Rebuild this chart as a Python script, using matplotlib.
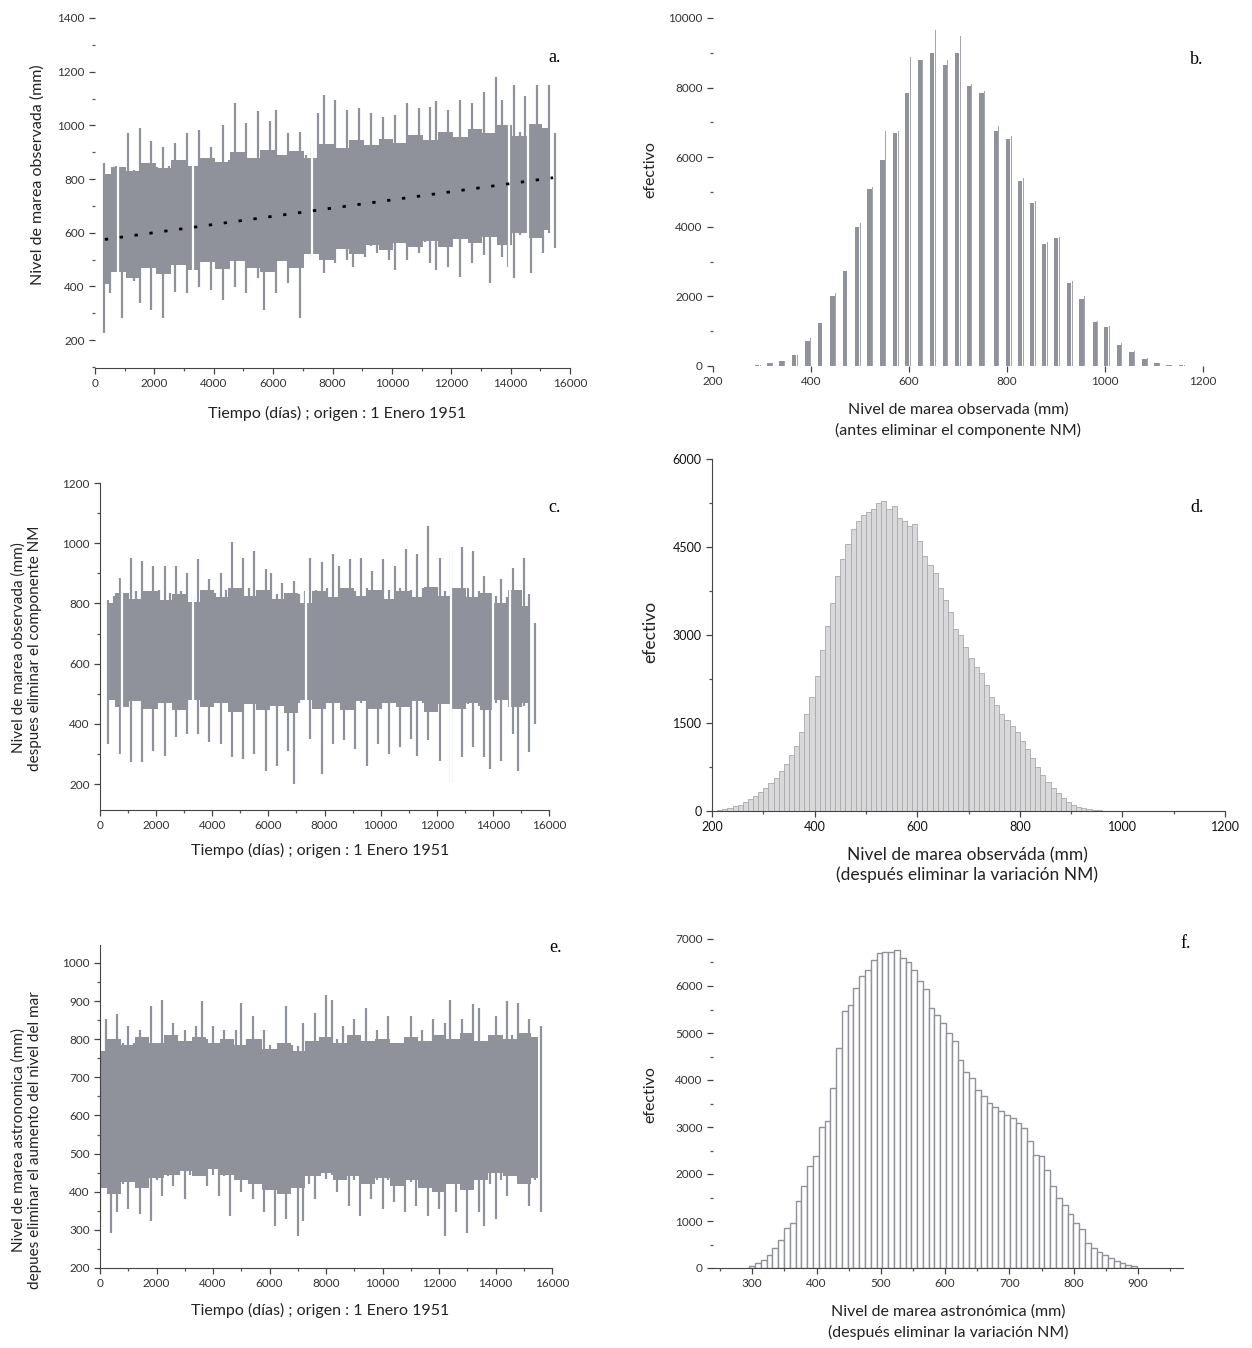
import matplotlib
matplotlib.use("Agg")
import matplotlib.pyplot as plt
import numpy as np
from matplotlib.ticker import MultipleLocator

plt.rcParams['font.family'] = ['Lato', 'DejaVu Sans']

W, H = 1252, 1348
GRAY = '#8f929b'

# ---- panel a: observed tide level (mm) ----
# extremes sampled every 200 days
a_t = list(range(300, 15501, 200))
a_hi = [860, 820, 850, 830, 971, 835, 990, 840, 940, 845,
        920, 850, 934, 850, 971, 855, 984, 860, 921, 865,
        1000, 870, 1083, 875, 1008, 880, 1052, 880, 1015, 1058,
        885, 971, 890, 977, 890, 946, 1046, 1114, 900, 1095,
        905, 1058, 910, 1064, 915, 1046, 920, 1033, 925, 1039,
        930, 1083, 935, 1064, 940, 1070, 1089, 945, 1058, 950,
        1095, 955, 1083, 960, 1126, 965, 1182, 1095, 970, 1151,
        975, 1108, 975, 1151, 980, 1151, 971]
a_lo = [225, 374, 480, 281, 485, 420, 337, 490, 312, 490,
        281, 495, 380, 495, 374, 500, 399, 505, 387, 505,
        349, 510, 399, 515, 374, 515, 430, 312, 520, 374,
        525, 411, 525, 281, 530, 499, 535, 449, 540, 486,
        545, 499, 474, 550, 511, 550, 523, 555, 500, 461,
        560, 499, 565, 523, 565, 486, 461, 570, 474, 575,
        436, 575, 486, 580, 517, 411, 585, 511, 474, 430,
        590, 598, 450, 595, 523, 600, 542]
# dense band, every 500 days
a_core_t = list(range(300, 15501, 500))
a_core_hi = [820, 845, 830, 860, 840, 870, 850, 880, 865, 900,
             880, 910, 890, 905, 880, 930, 915, 945, 925, 950,
             935, 965, 945, 975, 955, 985, 970, 1000, 960, 1005, 990]
a_core_lo = [410, 455, 430, 470, 445, 480, 460, 490, 465, 495,
             470, 455, 495, 470, 520, 500, 540, 520, 555, 535,
             560, 545, 570, 545, 575, 560, 585, 555, 600, 580, 610]
a_gaps = [790, 3290, 7300, 13960, 14600]
a_trend_t = [330, 15430]
a_trend_v = [575, 805]

# ---- panel b: histogram before removing NM component ----
b_x = [290, 315, 340, 365, 393, 418, 444, 469, 494, 519, 546, 572, 596, 622,
       647, 673, 698, 722, 748, 777, 802, 827, 851, 876, 900, 927, 952, 979,
       1002, 1028, 1054, 1081, 1105, 1130, 1155]
b_y = [40, 80, 150, 330, 725, 1240, 2000, 2720, 3990, 5100, 5910, 6700, 7850,
       8790, 9000, 8650, 9000, 8040, 7850, 6760, 6520, 5330, 4690, 3500, 3670,
       2390, 1930, 1260, 1110, 610, 390, 210, 90, 30, 20]
b_y2 = [40, 80, 150, 330, 800, 1400, 2100, 2800, 4100, 5150, 6740, 6740, 8890,
        8790, 9660, 8800, 9470, 8100, 7900, 6900, 6600, 5400, 4750, 3550, 3700,
        2450, 2000, 1300, 1150, 650, 420, 230, 100, 40, 20]

# ---- panel c: observed level after removing NM component ----
c_t = list(range(300, 15501, 200))
c_hi = [813, 824, 886, 830, 952, 840, 941, 830, 925, 845,
        925, 835, 925, 840, 902, 830, 947, 840, 880, 835,
        902, 845, 1003, 840, 952, 850, 975, 840, 913, 902,
        830, 869, 835, 874, 830, 840, 952, 845, 936, 850,
        964, 925, 845, 947, 840, 952, 850, 908, 840, 947,
        845, 925, 850, 980, 845, 964, 850, 1058, 845, 952,
        840, 975, 845, 986, 850, 975, 840, 891, 830, 824,
        880, 820, 919, 840, 952, 830, 735]
c_lo = [334, 480, 300, 470, 272, 480, 272, 470, 311, 480,
        295, 475, 356, 480, 367, 490, 367, 480, 339, 470,
        334, 475, 289, 470, 283, 465, 300, 470, 244, 460,
        261, 470, 311, 200, 470, 500, 350, 470, 233, 480,
        334, 470, 345, 475, 317, 470, 261, 480, 334, 470,
        300, 480, 322, 470, 350, 295, 470, 345, 465, 278,
        470, 205, 470, 289, 465, 322, 460, 289, 250, 470,
        278, 480, 367, 244, 460, 306, 400]
c_core_t = list(range(300, 15501, 500))
c_core_hi = [800, 835, 815, 840, 810, 830, 805, 845, 820, 850,
             825, 845, 815, 835, 800, 840, 820, 850, 825, 845,
             815, 840, 820, 855, 825, 850, 820, 835, 800, 845, 790]
c_core_lo = [480, 455, 475, 450, 470, 445, 480, 455, 470, 440,
             465, 445, 460, 435, 480, 450, 470, 445, 475, 450,
             470, 455, 475, 440, 465, 450, 470, 445, 480, 455, 470]
c_gaps = [800, 3300, 7330, 12520, 14010, 14620]

# ---- panel d: histogram after removing NM variation ----
d_x = list(range(215, 1000, 10))
d_y = [10, 30, 50, 80, 110, 150, 200, 260, 330, 400,
       470, 560, 680, 800, 950, 1100, 1350, 1650, 1950, 2300,
       2750, 3150, 3550, 4000, 4300, 4550, 4800, 4950, 5050, 5100,
       5150, 5250, 5280, 5150, 5200, 5000, 4950, 4850, 4900, 4600,
       4350, 4200, 4050, 3800, 3600, 3400, 3100, 3000, 2800, 2600,
       2450, 2350, 2150, 1950, 1800, 1650, 1550, 1450, 1350, 1200,
       1050, 900, 750, 620, 500, 400, 300, 220, 160, 110,
       70, 45, 30, 20, 12, 8, 5, 3, 2]

# ---- panel e: astronomical tide after removing sea level rise ----
e_t = list(range(0, 15601, 200))
e_hi = [720, 852, 790, 865, 790, 834, 790, 825, 795, 887,
        760, 904, 795, 843, 790, 825, 795, 834, 900, 800,
        834, 790, 825, 795, 825, 895, 800, 860, 795, 825,
        785, 756, 780, 887, 785, 782, 843, 795, 869, 805,
        917, 904, 800, 834, 795, 852, 791, 882, 795, 825,
        795, 860, 790, 747, 795, 860, 795, 825, 790, 852,
        795, 843, 904, 800, 852, 800, 891, 882, 738, 800,
        860, 805, 900, 810, 895, 800, 852, 790, 834]
e_lo = [320, 420, 293, 346, 420, 354, 425, 341, 425, 324,
        430, 389, 440, 415, 445, 381, 445, 450, 450, 415,
        445, 389, 440, 337, 435, 398, 435, 381, 430, 346,
        425, 311, 420, 328, 415, 285, 324, 420, 381, 440,
        433, 445, 398, 435, 363, 430, 337, 430, 381, 430,
        354, 430, 372, 430, 346, 425, 363, 425, 337, 425,
        354, 285, 420, 346, 425, 293, 420, 346, 311, 420,
        328, 430, 389, 440, 433, 430, 363, 430, 346]
e_core_t = list(range(0, 15601, 500))
e_core_hi = [770, 800, 785, 805, 790, 810, 795, 805, 790, 800,
             785, 800, 775, 790, 770, 795, 805, 790, 810, 795,
             800, 790, 805, 795, 810, 800, 815, 795, 810, 800,
             815, 805]
e_core_lo = [410, 395, 425, 410, 435, 445, 455, 440, 460, 445,
             430, 420, 405, 395, 410, 440, 450, 430, 440, 420,
             435, 415, 430, 410, 400, 420, 405, 430, 450, 440,
             420, 435]

# ---- panel f: histogram of astronomical tide ----
f_x = [300, 309, 318, 327, 336, 345, 354, 363, 372, 381, 390, 399, 408, 417,
       426, 435, 444, 453, 462, 471, 480, 489, 498, 507, 516, 525, 534, 543,
       552, 561, 570, 579, 588, 597, 606, 615, 624, 633, 642, 651, 660, 669,
       678, 687, 696, 705, 714, 723, 732, 741, 750, 759, 768, 777, 786, 795,
       804, 813, 822, 831, 840, 849, 858, 867, 876, 885, 894]
f_y = [35, 110, 180, 280, 430, 600, 850, 960, 1430, 1740, 2160, 2380, 3010, 3130,
       3830, 4680, 5460, 5600, 5960, 6220, 6350, 6560, 6700, 6730, 6730, 6770, 6600, 6520,
       6350, 6100, 5930, 5530, 5380, 5210, 5000, 4820, 4430, 4180, 4040, 3790, 3650, 3510,
       3420, 3330, 3260, 3190, 3080, 2980, 2700, 2410, 2380, 2090, 1740, 1490, 1350, 1150,
       960, 820, 530, 430, 350, 280, 210, 140, 110, 70, 50]

TIME_LABEL = 'Tiempo (días) ; origen : 1 Enero 1951'

fig = plt.figure(figsize=(W / 100, H / 100), dpi=100)


def add_ax(l, r, t, b):
    return fig.add_axes([l / W, 1 - b / H, (r - l) / W, (b - t) / H])


def ftext(x, y, s, **kw):
    fig.text(x / W, 1 - y / H, s, ha='center', va='center', **kw)


def style(ax, spines):
    for k in ['left', 'right', 'top', 'bottom']:
        ax.spines[k].set_visible(k in spines)
        ax.spines[k].set_color('#444')
    ax.tick_params(which='major', length=4, width=0.9, colors='#444',
                   labelsize=8.5, labelcolor='#333')
    ax.tick_params(which='minor', length=2, width=0.9, colors='#555')
    ax.set_facecolor('none')


def series(ax, t, lo, hi, ct, clo, chi, gaps, ymin, ymax):
    # dense band (ragged steps) plus the extremes as spikes
    ax.fill_between(ct, clo, chi, step='mid', color=GRAY, lw=0)
    ax.vlines(t, lo, hi, color=GRAY, lw=1.6)
    ax.vlines(gaps, ymin, ymax, color='white', lw=1.6)


# a
ax = add_ax(95, 570, 18, 368)
series(ax, a_t, a_lo, a_hi, a_core_t, a_core_lo, a_core_hi, a_gaps, 200, 1250)
ax.plot(a_trend_t, a_trend_v, color='k', lw=2.0, ls=(0, (1.2, 4.2)))
ax.set_xlim(0, 16000)
ax.set_ylim(96, 1400)
ax.xaxis.set_major_locator(MultipleLocator(2000))
ax.xaxis.set_minor_locator(MultipleLocator(1000))
ax.set_yticks([200, 400, 600, 800, 1000, 1200, 1400])
ax.yaxis.set_minor_locator(MultipleLocator(100))
style(ax, ['bottom'])
ftext(38, 175, 'Nivel de marea observada (mm)', rotation=90, fontsize=11.5, color='#222')
ftext(337, 413, TIME_LABEL, fontsize=11.5, color='#222')
ftext(555, 57, 'a.', family='Liberation Serif', fontsize=13)

# b
ax = add_ax(713, 1203, 18, 366)
ax.bar(b_x, b_y, width=9, color=GRAY, lw=0)
ax.bar(np.array(b_x) + 6.5, b_y2, width=2, color='#a4a6ae', lw=0)
ax.set_xlim(200, 1200)
ax.set_ylim(0, 10000)
ax.xaxis.set_major_locator(MultipleLocator(200))
ax.yaxis.set_major_locator(MultipleLocator(2000))
ax.yaxis.set_minor_locator(MultipleLocator(1000))
style(ax, [])
ftext(650, 170, 'efectivo', rotation=90, fontsize=11.5, color='#222')
ftext(958, 420, 'Nivel de marea observada (mm)\n(antes eliminar el componente NM)',
      fontsize=11.5, color='#222', linespacing=1.5)
ftext(1197, 60, 'b.', family='Liberation Serif', fontsize=13)

# c
ax = add_ax(100, 549, 483, 810)
series(ax, c_t, c_lo, c_hi, c_core_t, c_core_lo, c_core_hi, c_gaps, 150, 1100)
ax.set_xlim(0, 16000)
ax.set_ylim(114, 1200)
ax.xaxis.set_major_locator(MultipleLocator(2000))
ax.xaxis.set_minor_locator(MultipleLocator(1000))
ax.set_yticks([200, 400, 600, 800, 1000, 1200])
ax.yaxis.set_minor_locator(MultipleLocator(100))
style(ax, ['left', 'bottom'])
ftext(27, 648, 'Nivel de marea observada (mm)\ndespues eliminar el componente NM',
      rotation=90, fontsize=11, color='#222', linespacing=1.2)
ftext(320, 850, TIME_LABEL, fontsize=11.5, color='#222')
ftext(555, 507, 'c.', family='Liberation Serif', fontsize=13)

# d
ax = add_ax(712, 1225, 459, 811)
ax.bar(d_x, d_y, width=10, color='#d9d9db', edgecolor='#a9a9ad', lw=0.6)
ax.set_xlim(200, 1200)
ax.set_ylim(0, 6000)
ax.xaxis.set_major_locator(MultipleLocator(200))
ax.xaxis.set_minor_locator(MultipleLocator(100))
ax.yaxis.set_major_locator(MultipleLocator(1500))
ax.yaxis.set_minor_locator(MultipleLocator(750))
style(ax, ['left', 'bottom'])
ax.tick_params(labelcolor='#111', labelsize=9)
ftext(650, 632, 'efectivo', rotation=90, fontsize=12.5, color='#222')
ftext(967, 865, 'Nivel de marea observáda (mm)\n(después eliminar la variación NM)',
      fontsize=12.5, color='#222', linespacing=1.25)
ftext(1197, 507, 'd.', family='Liberation Serif', fontsize=13)

# e
ax = add_ax(100, 552, 945, 1268)
series(ax, e_t, e_lo, e_hi, e_core_t, e_core_lo, e_core_hi, [], 250, 950)
ax.set_xlim(0, 16000)
ax.set_ylim(200, 1047)
ax.xaxis.set_major_locator(MultipleLocator(2000))
ax.xaxis.set_minor_locator(MultipleLocator(1000))
ax.set_yticks([200, 300, 400, 500, 600, 700, 800, 900, 1000])
ax.yaxis.set_minor_locator(MultipleLocator(50))
style(ax, ['left', 'bottom'])
ftext(27, 1140, 'Nivel de marea astronomica (mm)\ndepues eliminar el aumento del nivel del mar',
      rotation=90, fontsize=11, color='#222', linespacing=1.2)
ftext(320, 1310, TIME_LABEL, fontsize=11.5, color='#222')
ftext(555, 948, 'e.', family='Liberation Serif', fontsize=13)

# f
ax = add_ax(713, 1183, 939, 1268)
ax.bar(f_x, f_y, width=9, color='white', edgecolor=GRAY, lw=1.0)
ax.set_xlim(239, 970)
ax.set_ylim(0, 7000)
ax.set_xticks([300, 400, 500, 600, 700, 800, 900])
ax.xaxis.set_minor_locator(MultipleLocator(50))
ax.yaxis.set_major_locator(MultipleLocator(1000))
ax.yaxis.set_minor_locator(MultipleLocator(500))
style(ax, ['bottom'])
ftext(650, 1095, 'efectivo', rotation=90, fontsize=11.5, color='#222')
ftext(948, 1322, 'Nivel de marea astronómica (mm)\n(después eliminar la variación NM)',
      fontsize=11.5, color='#222', linespacing=1.5)
ftext(1186, 943, 'f.', family='Liberation Serif', fontsize=13)

fig.savefig('out.png', dpi=100, facecolor='white')
